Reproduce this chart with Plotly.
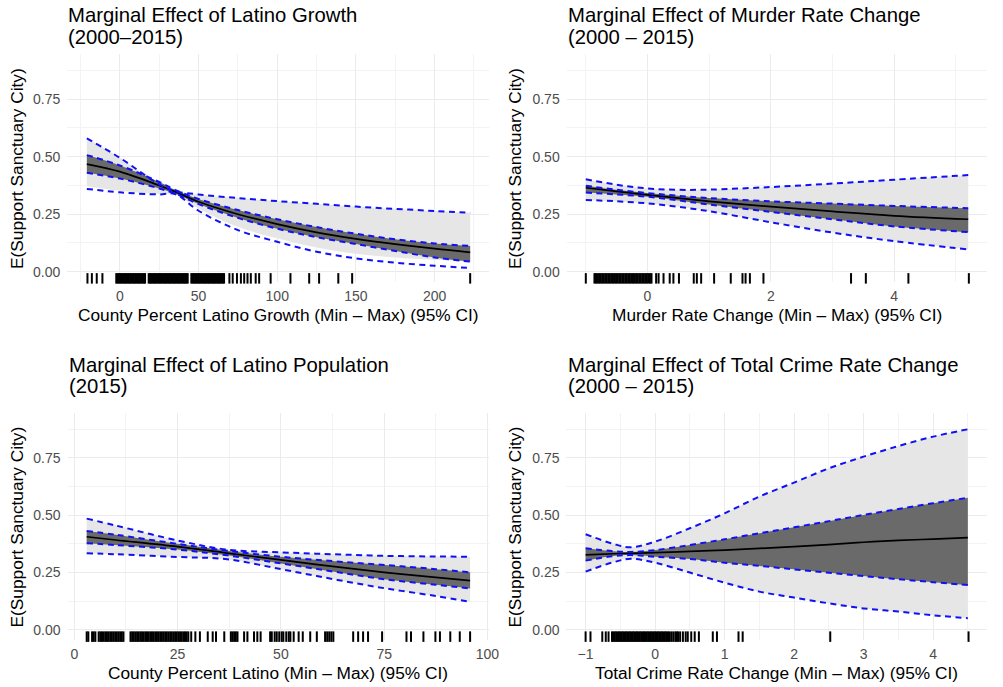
import plotly.graph_objects as go

# ---------------- Panel 1: Latino Growth ----------------
p1_x = [-21, 0, 25, 35, 50, 75, 100, 125, 150, 175, 200, 222.6]
p1_fit = [0.468, 0.435, 0.375, 0.348, 0.304, 0.250, 0.207, 0.171, 0.143, 0.120, 0.100, 0.084]
p1_out_hi = [0.580, 0.495, 0.380, 0.350, 0.336, 0.320, 0.307, 0.295, 0.283, 0.273, 0.264, 0.256]
p1_out_lo = [0.360, 0.345, 0.336, 0.338, 0.265, 0.181, 0.130, 0.087, 0.058, 0.039, 0.026, 0.016]
p1_in_hi = [0.507, 0.462, 0.390, 0.356, 0.316, 0.268, 0.228, 0.194, 0.165, 0.141, 0.123, 0.112]
p1_in_lo = [0.430, 0.405, 0.362, 0.340, 0.294, 0.234, 0.187, 0.150, 0.120, 0.090, 0.062, 0.044]
p1_band_lo = [0.372, 0.352, 0.338, 0.336, 0.275, 0.195, 0.145, 0.105, 0.078, 0.062, 0.052, 0.045]
p1_rug = [-20.6, -17.8, -14.7, -11.1,
          -2.3, -1.5, -0.7, 0.1, 0.9, 1.7, 2.5, 3.3, 4.1, 4.9, 5.7, 6.5, 7.3, 8.1, 8.9, 9.7, 10.5,
          11.3, 12.1, 12.9, 13.7, 14.5, 15.3, 16.0,
          18.3, 19.1, 19.9, 20.7, 21.5, 22.3, 23.1, 23.9, 24.7, 25.5, 26.3, 27.1, 27.9, 28.7, 29.5,
          30.3, 31.1, 31.9, 32.7, 33.5, 34.3, 35.1, 35.9, 36.7, 37.5, 38.3, 39.1, 39.9, 40.7, 41.5,
          42.3, 43.1,
          45.4, 46.2, 47.0, 47.8, 48.6, 49.4, 50.2, 51.0, 51.8, 52.6, 53.4, 54.2, 55.0, 55.8, 56.6,
          57.4, 58.2, 59.0, 59.8, 60.6, 61.4, 62.2, 63.0, 63.8, 64.6, 65.4, 66.2,
          69.6, 71.7, 74.4, 76.9, 79.0, 81.1, 83.2, 86.3, 88.5,
          95.8, 108.4, 120.3, 126.6, 138.8, 147.6, 222.6]

# ---------------- Panel 2: Murder Rate Change ----------------
p2_x = [-1, -0.5, 0, 0.5, 1, 2, 3, 4, 5.2]
p2_fit = [0.365, 0.349, 0.334, 0.320, 0.306, 0.283, 0.262, 0.243, 0.228]
p2_out_hi = [0.402, 0.378, 0.362, 0.356, 0.357, 0.368, 0.383, 0.400, 0.420]
p2_out_lo = [0.312, 0.306, 0.297, 0.282, 0.263, 0.215, 0.170, 0.133, 0.097]
p2_in_hi = [0.374, 0.356, 0.342, 0.330, 0.320, 0.306, 0.296, 0.286, 0.276]
p2_in_lo = [0.344, 0.336, 0.326, 0.310, 0.292, 0.260, 0.228, 0.197, 0.172]
p2_rug = [-1.00,
          -0.86, -0.835, -0.81, -0.785, -0.76, -0.735, -0.71, -0.685, -0.66, -0.635, -0.61,
          -0.585, -0.56, -0.535, -0.51, -0.485, -0.46, -0.435, -0.41, -0.385, -0.36, -0.335,
          -0.31, -0.285, -0.26, -0.235, -0.21, -0.185, -0.16, -0.135, -0.11, -0.085, -0.06,
          -0.035, -0.01, 0.015, 0.04, 0.065,
          0.14, 0.18, 0.26, 0.36, 0.42, 0.51, 0.75, 0.80, 0.87, 1.08, 1.35, 1.54, 1.59, 1.66,
          1.88, 3.30, 3.54, 4.23, 5.21]

# ---------------- Panel 3: Latino Population ----------------
p3_x = [3, 10, 25, 37, 50, 62.5, 75, 87.5, 95.8]
p3_fit = [0.406, 0.392, 0.363, 0.335, 0.305, 0.277, 0.251, 0.229, 0.215]
p3_out_hi = [0.485, 0.455, 0.390, 0.350, 0.338, 0.330, 0.323, 0.320, 0.319]
p3_out_lo = [0.334, 0.330, 0.318, 0.308, 0.265, 0.222, 0.182, 0.148, 0.123]
p3_in_hi = [0.431, 0.415, 0.375, 0.345, 0.319, 0.300, 0.283, 0.265, 0.251]
p3_in_lo = [0.378, 0.370, 0.350, 0.325, 0.290, 0.255, 0.221, 0.197, 0.181]
p3_rug = [3.0, 3.4, 4.3, 4.7, 5.1, 5.9, 6.3, 6.7, 7.1, 7.5, 7.9, 8.3, 8.7, 9.1, 9.5, 9.9, 10.3,
          10.7, 11.1, 11.5, 11.9,
          13.6, 14.0, 14.4, 14.8, 15.2, 15.6, 16.0, 16.4, 16.8, 17.2, 17.6, 18.0, 18.4, 18.8,
          19.2, 19.6, 20.0, 20.4, 20.8, 21.2, 21.6, 22.0, 22.4, 22.8, 23.2, 23.6, 24.0, 24.4,
          24.8, 25.2, 25.6, 26.0, 26.4, 26.8, 27.2, 27.6,
          28.3, 29.3, 30.4, 32.3, 33.5, 34.3, 36.3, 37.9, 38.3, 38.7, 39.1, 39.5, 41.1, 41.9,
          43.5, 44.3, 45.1, 47.4, 47.8, 48.5, 49.0, 49.6, 50.2, 50.6, 51.3, 51.9, 52.3, 53.1,
          54.3, 55.3, 57.1, 58.7, 60.7, 61.2, 61.7, 62.2, 62.7,
          67.5, 68.7, 69.9, 71.1, 74.5, 80.4, 81.5, 84.5, 87.4, 88.5, 91.0, 93.3, 95.8]

# ---------------- Panel 4: Total Crime Rate Change ----------------
p4_x = [-1, -0.6, -0.35, 0, 0.5, 1, 1.5, 2, 2.5, 3, 3.5, 4, 4.5]
p4_fit = [0.327, 0.332, 0.334, 0.337, 0.342, 0.348, 0.355, 0.363, 0.372, 0.382, 0.390, 0.396, 0.402]
p4_out_hi = [0.417, 0.375, 0.360, 0.385, 0.443, 0.508, 0.581, 0.642, 0.704, 0.755, 0.801, 0.842, 0.874]
p4_out_lo = [0.254, 0.295, 0.310, 0.293, 0.250, 0.206, 0.167, 0.141, 0.116, 0.094, 0.080, 0.064, 0.051]
p4_in_hi = [0.356, 0.343, 0.340, 0.348, 0.370, 0.395, 0.421, 0.447, 0.474, 0.501, 0.527, 0.552, 0.576]
p4_in_lo = [0.302, 0.322, 0.326, 0.319, 0.309, 0.293, 0.279, 0.264, 0.249, 0.235, 0.221, 0.208, 0.196]
p4_rug = [-1.00, -0.93, -0.76, -0.71, -0.67,
          -0.62, -0.60, -0.58, -0.56, -0.54, -0.52, -0.50, -0.48, -0.46, -0.44, -0.42, -0.40,
          -0.38, -0.36, -0.34, -0.32, -0.30, -0.28, -0.26, -0.24, -0.22, -0.20, -0.18, -0.16,
          -0.14, -0.12, -0.10, -0.08, -0.06, -0.04, -0.02, 0.00, 0.02, 0.04, 0.06, 0.08, 0.10,
          0.12, 0.14, 0.16, 0.18, 0.20, 0.23, 0.26, 0.29, 0.31, 0.33, 0.36,
          0.40, 0.44, 0.47, 0.52, 0.57, 0.63, 0.83, 0.89, 1.20, 1.26, 2.52, 4.51]

titles = [["Marginal Effect of Latino Growth", "(2000–2015)"],
          ["Marginal Effect of Murder Rate Change", "(2000 – 2015)"],
          ["Marginal Effect of Latino Population", "(2015)"],
          ["Marginal Effect of Total Crime Rate Change", "(2000 – 2015)"]]
x_titles = ["County Percent Latino Growth (Min – Max) (95% CI)",
            "Murder Rate Change (Min – Max) (95% CI)",
            "County Percent Latino (Min – Max) (95% CI)",
            "Total Crime Rate Change (Min – Max) (95% CI)"]
y_title = "E(Support Sanctuary City)"

W, H = 1003, 687
FONT = "Liberation Sans, Arial, Helvetica, sans-serif"
LIGHT = "#e6e6e6"
DARK = "#6a6a6a"
BLUE = "#1010f5"
RUG_Y = -0.029

panels = [
    dict(x=p1_x, fit=p1_fit, oh=p1_out_hi, ol=p1_out_lo, ih=p1_in_hi, il=p1_in_lo,
         bh=p1_out_hi, bl=p1_band_lo, rug=p1_rug,
         px=(68, 494.3), py=(54.35, 282.05), xr=[-33.4, 234.8], dt=50, mdt=25),
    dict(x=p2_x, fit=p2_fit, oh=p2_out_hi, ol=p2_out_lo, ih=p2_in_hi, il=p2_in_lo,
         bh=p2_out_hi, bl=p2_out_lo, rug=p2_rug,
         px=(572.4, 997.3), py=(54.35, 282.05), xr=[-1.31, 5.51], dt=2, mdt=1),
    dict(x=p3_x, fit=p3_fit, oh=p3_out_hi, ol=p3_out_lo, ih=p3_in_hi, il=p3_in_lo,
         bh=p3_out_hi, bl=p3_out_lo, rug=p3_rug,
         px=(68.2, 494.2), py=(413.0, 640.3), xr=[-1.64, 100.44], dt=25, mdt=12.5),
    dict(x=p4_x, fit=p4_fit, oh=p4_out_hi, ol=p4_out_lo, ih=p4_in_hi, il=p4_in_lo,
         bh=p4_out_hi, bl=p4_out_lo, rug=p4_rug,
         px=(572.2, 996.9), py=(413.0, 640.3), xr=[-1.275, 4.775], dt=1, mdt=0.5),
]

fig = go.Figure()
layout = dict(width=W, height=H, margin=dict(l=0, r=0, t=0, b=0),
              paper_bgcolor="white", plot_bgcolor="white", showlegend=False,
              hovermode=False, font=dict(family=FONT))
annotations = []

for i, p in enumerate(panels):
    xa = "x" if i == 0 else f"x{i+1}"
    ya = "y" if i == 0 else f"y{i+1}"
    common = dict(xaxis=xa, yaxis=ya, hoverinfo="skip", showlegend=False)
    # light band
    fig.add_trace(go.Scatter(x=p["x"], y=p["bl"], mode="lines", line=dict(width=0, shape="spline"), **common))
    fig.add_trace(go.Scatter(x=p["x"], y=p["bh"], mode="lines", line=dict(width=0, shape="spline"),
                             fill="tonexty", fillcolor=LIGHT, **common))
    # dark band
    fig.add_trace(go.Scatter(x=p["x"], y=p["il"], mode="lines", line=dict(width=0, shape="spline"), **common))
    fig.add_trace(go.Scatter(x=p["x"], y=p["ih"], mode="lines", line=dict(width=0, shape="spline"),
                             fill="tonexty", fillcolor=DARK, **common))
    # fit
    fig.add_trace(go.Scatter(x=p["x"], y=p["fit"], mode="lines",
                             line=dict(color="black", width=1.7, shape="spline"), **common))
    # dashed CI lines
    for key in ["oh", "ol", "ih", "il"]:
        fig.add_trace(go.Scatter(x=p["x"], y=p[key], mode="lines",
                                 line=dict(color=BLUE, width=2, dash="6px,4.5px", shape="spline"), **common))
    # rug
    fig.add_trace(go.Scatter(x=p["rug"], y=[RUG_Y] * len(p["rug"]), mode="markers", cliponaxis=False,
                             marker=dict(symbol="line-ns", size=7.5, color="black",
                                         line=dict(width=2.0, color="black")), **common))

    x0, x1 = p["px"]
    y0, y1 = p["py"]
    xname = "xaxis" if i == 0 else f"xaxis{i+1}"
    yname = "yaxis" if i == 0 else f"yaxis{i+1}"
    layout[xname] = dict(domain=[x0 / W, x1 / W], anchor=ya, range=p["xr"],
                         tickmode="linear", tick0=0, dtick=p["dt"], showspikes=False,
                         showgrid=True, gridcolor="#ebebeb", gridwidth=1.2, zeroline=False,
                         showline=False, ticks="", ticklabelstandoff=4,
                         tickfont=dict(size=14, color="#4d4d4d", family=FONT),
                         minor=dict(tickmode="linear", tick0=0, dtick=p["mdt"], showgrid=True,
                                    gridcolor="#f3f3f3", gridwidth=0.8))
    layout[yname] = dict(domain=[1 - y1 / H, 1 - y0 / H], anchor=xa, range=[-0.045, 0.945],
                         tickmode="linear", tick0=0, dtick=0.25, tickformat=".2f", showspikes=False,
                         showgrid=True, gridcolor="#ebebeb", gridwidth=1.2, zeroline=False,
                         showline=False, ticks="", ticklabelstandoff=6,
                         tickfont=dict(size=14, color="#4d4d4d", family=FONT),
                         minor=dict(tickmode="linear", tick0=0, dtick=0.125, showgrid=True,
                                    gridcolor="#f3f3f3", gridwidth=0.8))

    # titles
    top = 0 if i < 2 else 349
    for j, (line, cy) in enumerate(zip(titles[i], [15.5, 37.3])):
        annotations.append(dict(text=line, xref="paper", yref="paper", x=(x0 - 1) / W, y=1 - (cy + top) / H,
                                xanchor="left", yanchor="middle", showarrow=False,
                                font=dict(size=20.3, color="black", family=FONT)))
    # x title
    xt_y = 315 if i < 2 else 672.5
    annotations.append(dict(text=x_titles[i], xref="paper", yref="paper", x=(x0 + x1) / 2 / W,
                            y=1 - xt_y / H, xanchor="center", yanchor="middle", showarrow=False,
                            font=dict(size=17.3, color="black", family=FONT)))
    # y title
    yt_x = 17 if i % 2 == 0 else 520
    annotations.append(dict(text=y_title, xref="paper", yref="paper", x=yt_x / W,
                            y=1 - (y0 + y1) / 2 / H, xanchor="center", yanchor="middle",
                            showarrow=False, textangle=-90,
                            font=dict(size=17.3, color="black", family=FONT)))

layout["annotations"] = annotations
fig.update_layout(**layout)
fig.write_html("out.html", config={"displayModeBar": False},
               post_script="document.body.style.margin='0';document.body.style.padding='0';")
